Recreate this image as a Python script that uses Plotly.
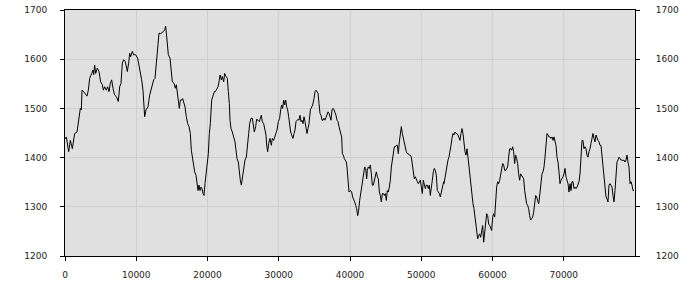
import plotly.graph_objects as go

sample_x = [
    0, 187, 514, 748, 1029, 1356, 1684, 1918, 2152, 2292, 2385, 2619, 2900, 3087, 3274, 3461, 3742, 3929, 4023, 4163,
    4303, 4537, 4771, 5005, 5239, 5379, 5567, 5800, 5988, 6175, 6362, 6549, 6736, 6970, 7204, 7485, 7672, 7859, 8046, 8233,
    8467, 8748, 8935, 9075, 9215, 9449, 9636, 9917, 10198, 10478, 10759, 10946, 11087, 11180, 11367, 11648, 11882, 12162, 12443, 12630,
    12817,
    13053, 13193, 13427, 13614, 13801, 13989, 14129, 14316, 14503, 14737, 14877, 15064, 15298, 15486, 15626, 15766, 15953, 16047, 16187,
    16374, 16515, 16655, 16842, 17029, 17216, 17404, 17591, 17731, 17871, 18058, 18199, 18386, 18573, 18667, 18807, 18947, 19088, 19228,
    19368, 19509, 19649, 19789, 19976, 20117, 20257, 20397, 20585, 20772, 20959, 21099, 21286, 21473, 21614, 21754, 21941, 22082, 22269,
    22409, 22596, 22783, 22924, 23064, 23157, 23298, 23485, 23672, 23859, 23999, 24140, 24327, 24467, 24607, 24748, 24888, 25075, 25262,
    25450, 25637, 25777, 25917, 26104, 26292, 26479,
    26573, 26760, 26900, 27088, 27275, 27415, 27556, 27696, 27883, 28070, 28210, 28304, 28444, 28585, 28772, 28959, 29099, 29286, 29427,
    29567, 29754, 29941, 30128, 30269, 30409, 30549, 30690, 30830, 30970, 31111, 31251, 31391, 31532, 31672, 31812, 31999, 32140, 32280,
    32421, 32561, 32701, 32842, 32982, 33122, 33263, 33403, 33543, 33684, 33824, 33964, 34105, 34245, 34432, 34573, 34760, 34947, 35087,
    35227, 35368, 35508, 35648, 35789, 35929, 36069, 36210, 36350, 36490, 36631, 36771, 36912, 37052, 37192, 37333, 37473, 37613, 37754,
    37894, 38034, 38175, 38315, 38455, 38596, 38689, 38829, 38923, 39063, 39204, 39344, 39484, 39578, 39672, 39812,
    39859, 40046, 40234, 40374, 40514, 40655, 40795, 40935, 41076, 41216, 41356, 41497, 41637, 41777, 41918, 42058, 42198, 42339, 42432,
    42573, 42713, 42853, 42994, 43134, 43274, 43415, 43555, 43695, 43836, 43976, 44116, 44257, 44397, 44537, 44678, 44818, 44958, 45099,
    45239, 45379, 45520, 45660, 45800, 45941, 46081, 46221, 46362, 46502, 46642, 46783, 46923, 47063, 47204, 47344, 47484, 47625, 47765,
    47905, 48046, 48186, 48326, 48467, 48607, 48747, 48888, 49028, 49168, 49309, 49449, 49589, 49730, 49870, 50010, 50151, 50291, 50431,
    50572, 50712, 50852, 50993, 51133, 51273, 51414, 51554, 51694, 51835, 51975, 52115, 52256, 52396, 52536, 52677, 52817, 52957, 53145,
    53192, 53333, 53473, 53613, 53754, 53894, 54034, 54175, 54315, 54455, 54596, 54736, 54876, 55017, 55157, 55297, 55438, 55578, 55718,
    55859, 55999, 56139, 56280, 56420, 56560, 56701, 56841, 56981, 57122, 57262, 57402, 57543, 57683, 57823, 57917, 58057, 58198, 58338,
    58478, 58619, 58759, 58899, 59040, 59180, 59320, 59461, 59601, 59741, 59882, 60022, 60162, 60303, 60443, 60583, 60724, 60864, 61004,
    61145, 61285, 61425, 61566, 61706, 61846, 61987, 62127, 62267, 62408, 62548, 62688, 62829, 62969, 63109, 63250, 63390, 63530, 63671,
    63811, 63951, 64092, 64232, 64372, 64513, 64653, 64793, 64934, 65074, 65214, 65355, 65495, 65635, 65776, 65916, 66056, 66197, 66337,
    66477,
    66526, 66667, 66807, 66947, 67088, 67228, 67368, 67509, 67649, 67789, 67930, 68070, 68210, 68351, 68491, 68631, 68772, 68912, 69052,
    69193, 69333, 69473, 69614, 69754, 69894, 70035, 70175, 70315, 70456, 70596, 70736, 70877, 71017, 71157, 71298, 71438, 71578, 71719,
    71859, 71999, 72140, 72280, 72420, 72561, 72701, 72841, 72982, 73122, 73262, 73403, 73543, 73683, 73824, 73964, 74104, 74245, 74385,
    74525, 74666, 74806, 74946, 75087, 75227, 75367, 75508, 75648, 75788, 75929, 76069, 76209, 76350, 76490, 76630, 76771, 76911, 77051,
    77192, 77332, 77472, 77613, 77753, 77893, 78034, 78174, 78314, 78455, 78595, 78735, 78876, 79016, 79156, 79297, 79437, 79577, 79718,
    79858,
]

series_values = [
    1438, 1442, 1412, 1435, 1418, 1449, 1452, 1476, 1500, 1497, 1537, 1534, 1527, 1525, 1537, 1561, 1571, 1578, 1568, 1588,
    1571, 1582, 1575, 1554, 1548, 1537, 1544, 1537, 1544, 1534, 1551, 1558, 1541, 1527, 1524, 1514, 1544, 1551, 1592, 1599,
    1595, 1575, 1592, 1612, 1605, 1616, 1609, 1609, 1602, 1582, 1558, 1537, 1497, 1483, 1497, 1503, 1527, 1541, 1558, 1561,
    1599,
    1630, 1653, 1652, 1654, 1656, 1660, 1667, 1639, 1609, 1602, 1578, 1554, 1551, 1541, 1548, 1527, 1514, 1500, 1517,
    1517, 1520, 1514, 1503, 1483, 1469, 1463, 1449, 1415, 1401, 1381, 1371, 1364, 1347, 1333, 1344, 1333, 1340, 1337,
    1327, 1323, 1347, 1367, 1395, 1408, 1449, 1469, 1517, 1527, 1534, 1534, 1541, 1544, 1554, 1568, 1558, 1565, 1554,
    1571, 1565, 1561, 1534, 1510, 1476, 1459, 1452, 1442, 1432, 1415, 1398, 1391, 1367, 1354, 1344, 1361, 1371, 1395,
    1401, 1422, 1449, 1469, 1480, 1480, 1466,
    1452, 1463, 1478, 1476, 1473, 1480, 1486, 1473, 1469, 1456, 1446, 1425, 1412, 1429, 1439, 1425, 1439, 1435, 1442,
    1452, 1456, 1473, 1480, 1497, 1507, 1500, 1517, 1507, 1517, 1503, 1497, 1483, 1466, 1452, 1446, 1439, 1449, 1456,
    1473, 1476, 1478, 1476, 1486, 1473, 1476, 1469, 1483, 1473, 1456, 1449, 1459, 1469, 1497, 1503, 1507, 1520, 1534,
    1537, 1534, 1531, 1510, 1490, 1486, 1476, 1476, 1480, 1476, 1483, 1486, 1493, 1490, 1483, 1476, 1497, 1500, 1497,
    1493, 1486, 1476, 1473, 1463, 1456, 1446, 1442, 1408, 1405, 1398, 1395, 1391, 1381, 1354, 1337,
    1330, 1333, 1330, 1320, 1316, 1310, 1303, 1296, 1282, 1293, 1313, 1327, 1337, 1347, 1361, 1381, 1378, 1357, 1374,
    1381, 1378, 1385, 1367, 1344, 1344, 1354, 1364, 1371, 1361, 1357, 1330, 1323, 1310, 1327, 1327, 1323, 1327, 1313,
    1333, 1330, 1340, 1354, 1381, 1398, 1412, 1422, 1422, 1425, 1425, 1408, 1432, 1449, 1463, 1449, 1439, 1432, 1415,
    1412, 1408, 1408, 1405, 1405, 1401, 1385, 1364, 1357, 1361, 1354, 1351, 1347, 1351, 1354, 1340, 1327, 1354, 1347,
    1337, 1344, 1344, 1337, 1344, 1323, 1347, 1354, 1371, 1378, 1374, 1364, 1333, 1330, 1327, 1320, 1330, 1340, 1351,
    1347, 1361, 1374, 1388, 1395, 1401, 1418, 1425, 1439, 1449, 1446, 1452, 1449, 1449, 1446, 1439, 1435, 1449, 1459,
    1449, 1429, 1412, 1405, 1418, 1401, 1381, 1361, 1340, 1323, 1306, 1296, 1282, 1265, 1248, 1235, 1241, 1245, 1238,
    1255, 1262, 1228, 1245, 1265, 1286, 1282, 1265, 1262, 1255, 1252, 1279, 1286, 1279, 1313, 1340, 1351, 1347, 1354,
    1364, 1374, 1388, 1385, 1374, 1374, 1378, 1381, 1401, 1418, 1418, 1415, 1422, 1412, 1388, 1405, 1398, 1388, 1367,
    1354, 1367, 1364, 1361, 1357, 1333, 1313, 1306, 1303, 1296, 1282, 1273, 1276, 1279, 1289, 1313, 1323, 1320, 1313,
    1306,
    1310, 1327, 1347, 1367, 1371, 1381, 1401, 1429, 1449, 1446, 1442, 1442, 1439, 1442, 1435, 1442, 1429, 1425, 1401,
    1391, 1371, 1347, 1354, 1357, 1361, 1367, 1378, 1361, 1354, 1347, 1330, 1347, 1333, 1351, 1351, 1337, 1340, 1337,
    1340, 1347, 1351, 1367, 1405, 1435, 1435, 1418, 1422, 1418, 1405, 1401, 1412, 1418, 1429, 1439, 1449, 1439, 1432,
    1446, 1439, 1435, 1432, 1425, 1425, 1401, 1374, 1354, 1340, 1320, 1316, 1310, 1344, 1347, 1344, 1340, 1323, 1310,
    1333, 1378, 1391, 1395, 1401, 1398, 1395, 1395, 1394, 1395, 1391, 1395, 1405, 1391, 1381, 1347, 1351, 1344, 1333,
    1333,
]

x_ticks = [0, 10000, 20000, 30000, 40000, 50000, 60000, 70000]
y_ticks = [1200, 1300, 1400, 1500, 1600, 1700]

axis_font = dict(family="DejaVu Sans", size=9, color="#222222")
grid_color = "#cfcfcf"

fig = go.Figure()
fig.add_trace(go.Scatter(
    x=sample_x, y=series_values, mode="lines",
    line=dict(color="black", width=1), showlegend=False,
))
fig.add_trace(go.Scatter(
    x=sample_x, y=series_values, mode="lines", yaxis="y2",
    line=dict(color="rgba(0,0,0,0)", width=0), showlegend=False, hoverinfo="skip",
))

fig.update_layout(
    width=700, height=300,
    margin=dict(l=65, r=65, t=10, b=44, autoexpand=False),
    paper_bgcolor="white", plot_bgcolor="#e0e0e0",
    showlegend=False,
    xaxis=dict(
        range=[0, 80000], tickvals=x_ticks, ticktext=[str(v) for v in x_ticks],
        showgrid=True, gridcolor=grid_color, gridwidth=1,
        showline=True, linecolor="black", linewidth=1, mirror=True,
        ticks="outside", ticklen=4, tickcolor="black", tickfont=axis_font,
        zeroline=False, ticklabelstandoff=6, automargin=False,
    ),
    yaxis=dict(
        range=[1200, 1700], tickvals=y_ticks, ticktext=[str(v) for v in y_ticks],
        showgrid=True, gridcolor=grid_color, gridwidth=1,
        showline=True, linecolor="black", linewidth=1, mirror=True,
        ticks="outside", ticklen=4, tickcolor="black", tickfont=axis_font,
        zeroline=False, ticklabelstandoff=11, automargin=False,
    ),
    yaxis2=dict(
        range=[1200, 1700], overlaying="y", side="right",
        tickvals=y_ticks, ticktext=[str(v) for v in y_ticks],
        showgrid=False, showline=False, zeroline=False,
        ticks="outside", ticklen=4, tickcolor="black", tickfont=axis_font,
        ticklabelstandoff=14, automargin=False,
    ),
)

fig.write_html("out.html")
